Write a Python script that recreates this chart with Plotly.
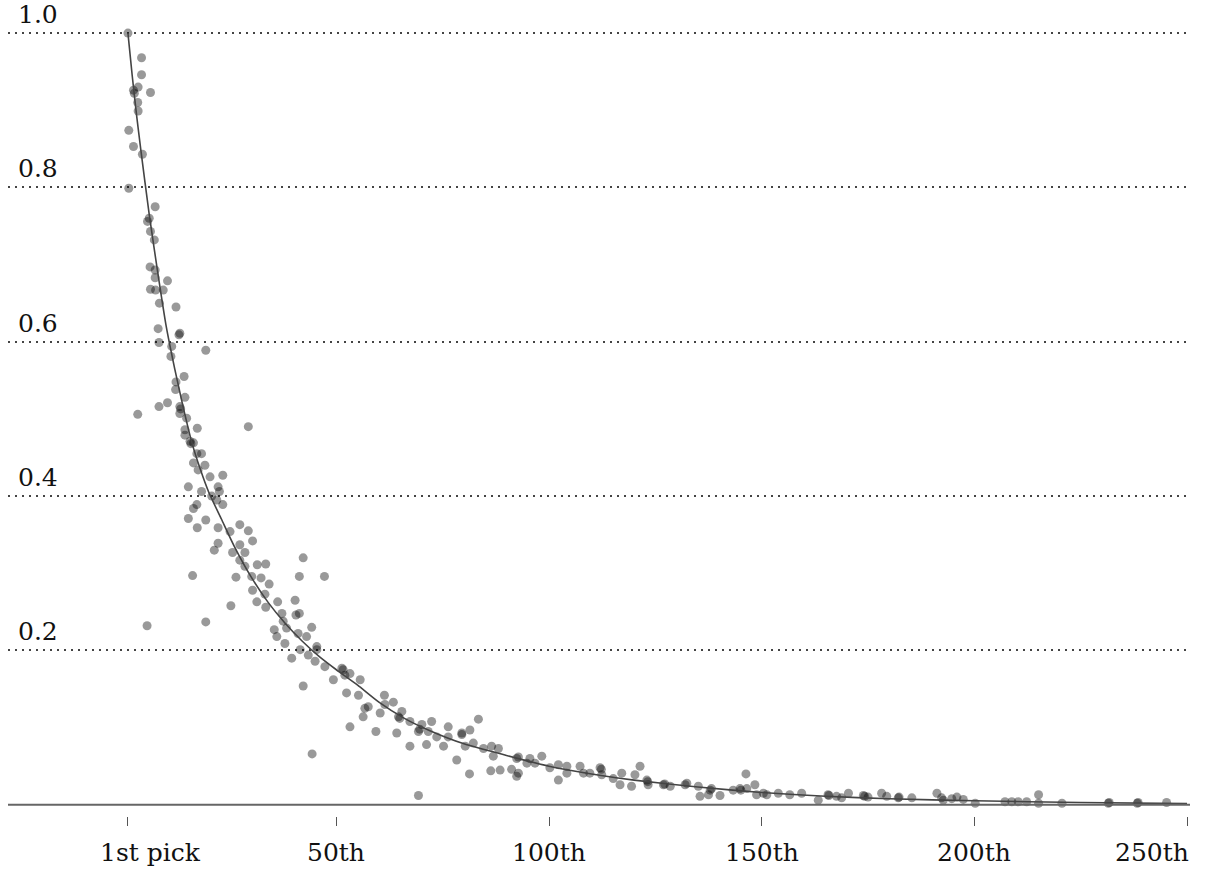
import plotly.graph_objects as go

# ---- data ----
pick_x = [1.0, 4.2, 4.2, 2.3, 2.5, 3.4, 6.3, 3.3, 3.4, 1.2, 2.3, 4.4, 1.2, 7.4, 6.0, 5.6, 6.3, 7.2, 6.2, 7.4,
          7.4, 10.3, 6.3, 7.5, 9.3, 8.4, 12.3, 8.1, 13.2, 13.0, 8.3, 11.3, 19.3, 11.1, 14.2, 12.3, 12.2, 14.4, 8.3, 10.3,
          13.2, 13.4, 3.3, 13.2, 14.8, 17.3, 14.4, 14.4, 29.3, 15.6, 15.8,
          16.4, 18.3, 17.2, 16.4, 19.1, 17.5, 20.3, 23.3, 15.2, 22.2, 18.3, 22.5, 20.7, 21.9, 17.2, 16.4, 23.3, 15.2, 19.3,
          17.3, 22.2, 27.3, 25.0, 29.3, 22.2, 30.3, 27.3, 21.3, 25.6, 28.5, 27.3, 42.2, 31.4, 33.4, 28.5, 16.2, 26.4, 30.1,
          32.3, 41.3, 47.2, 34.2, 30.3, 33.2, 36.2, 31.3, 40.3, 25.2, 33.4, 37.2, 40.5, 41.3, 19.3, 37.5, 44.2, 35.4, 38.3,
          41.0, 43.0, 36.0, 5.5,
          45.4, 37.9, 39.5, 41.5, 43.4, 45.4, 45.0, 42.2, 47.3, 49.3, 51.3, 51.6, 52.0, 53.2, 55.6, 52.4, 55.2, 44.3, 53.2,
          56.7, 57.5, 56.3, 61.3, 61.4, 63.4, 60.3, 59.3, 64.6, 64.9, 65.4, 64.2, 67.3, 69.3, 69.6, 67.3, 71.2, 72.4, 71.6,
          69.3, 76.3, 75.2, 73.6, 76.3, 78.3, 79.5, 81.4, 83.4, 80.3, 82.2, 81.3, 84.6, 86.5, 88.1, 86.3, 88.5, 86.9, 92.4,
          92.8, 91.2, 92.8, 94.8, 70.1, 79.5,
          92.4, 95.5, 96.7, 98.3, 100.2, 102.2, 102.2, 104.2, 104.2, 107.3, 108.1, 109.6, 112.0, 112.3, 112.4, 115.1, 117.1,
          116.7, 119.4, 120.2, 121.4, 123.0, 123.2, 123.3, 126.9, 127.2, 128.5, 132.0, 132.4, 135.1, 135.5, 137.9, 138.2,
          137.5, 140.2, 143.3, 144.9, 145.1, 146.5, 146.3, 148.4, 148.8, 151.2, 150.4, 153.9, 156.6, 159.4, 163.3, 165.6,
          165.8, 167.6, 168.8, 170.4, 173.9, 174.2, 175.0, 178.2, 179.4, 182.1, 182.3, 185.3, 191.2, 192.3, 192.7, 194.7,
          195.9, 197.4, 200.2, 207.2, 208.8, 210.3, 212.3, 215.1, 215.1, 220.6, 231.5, 231.7, 238.3, 238.5, 245.2]
pick_y = [1.0, 0.968, 0.946, 0.926, 0.922, 0.930, 0.923, 0.910, 0.899, 0.874, 0.853, 0.843, 0.799, 0.775, 0.760, 0.756,
          0.743, 0.732, 0.697, 0.693, 0.683, 0.679, 0.668, 0.667, 0.667, 0.650, 0.645, 0.617, 0.611, 0.609, 0.599, 0.594,
          0.589, 0.581, 0.555, 0.548, 0.538, 0.528, 0.516, 0.521, 0.516, 0.513, 0.506, 0.507, 0.501, 0.488, 0.486, 0.479,
          0.490, 0.471, 0.468,
          0.469, 0.455, 0.455, 0.443, 0.440, 0.434, 0.425, 0.427, 0.412, 0.412, 0.406, 0.406, 0.400, 0.395, 0.389, 0.384,
          0.389, 0.371, 0.369, 0.359, 0.359, 0.363, 0.354, 0.355, 0.339, 0.342, 0.337, 0.330, 0.327, 0.327, 0.317, 0.320,
          0.311, 0.312, 0.309, 0.297, 0.295, 0.296, 0.294, 0.296, 0.296, 0.286, 0.278, 0.273, 0.263, 0.263, 0.265, 0.258,
          0.256, 0.248, 0.246, 0.248, 0.237, 0.238, 0.230, 0.227, 0.229, 0.222, 0.218, 0.218, 0.232,
          0.205, 0.209, 0.190, 0.201, 0.194, 0.201, 0.186, 0.154, 0.179, 0.162, 0.177, 0.175, 0.168, 0.170, 0.162, 0.145,
          0.142, 0.066, 0.101, 0.125, 0.127, 0.114, 0.142, 0.130, 0.133, 0.119, 0.095, 0.114, 0.112, 0.121, 0.093, 0.108,
          0.095, 0.098, 0.076, 0.078, 0.108, 0.095, 0.012, 0.101, 0.076, 0.088, 0.088, 0.058, 0.091, 0.097, 0.111, 0.076,
          0.080, 0.040, 0.073, 0.076, 0.073, 0.044, 0.045, 0.063, 0.060, 0.062, 0.046, 0.041, 0.054, 0.104, 0.093,
          0.037, 0.060, 0.054, 0.063, 0.048, 0.052, 0.032, 0.050, 0.041, 0.050, 0.041, 0.041, 0.048, 0.046, 0.039, 0.034,
          0.041, 0.026, 0.024, 0.039, 0.050, 0.032, 0.030, 0.026, 0.026, 0.027, 0.024, 0.026, 0.028, 0.024, 0.011, 0.019,
          0.021, 0.013, 0.012, 0.019, 0.021, 0.019, 0.021, 0.040, 0.026, 0.013, 0.013, 0.015, 0.015, 0.013, 0.015, 0.006,
          0.013, 0.012, 0.011, 0.009, 0.015, 0.012, 0.011, 0.010, 0.015, 0.011, 0.009, 0.010, 0.009, 0.015, 0.009, 0.006,
          0.008, 0.010, 0.007, 0.002, 0.004, 0.004, 0.004, 0.004, 0.013, 0.002, 0.002, 0.002, 0.003, 0.002, 0.003, 0.003]

curve_x = [1, 2, 3, 4, 6, 8, 10, 12, 14, 16, 18, 20, 23, 26, 30, 34, 38, 42, 46, 50, 55, 60, 66, 72, 80, 90,
           100, 110, 120, 135, 150, 165, 180, 200, 225, 250]
curve_y = [1.0, 0.945, 0.895, 0.85, 0.765, 0.69, 0.62, 0.565, 0.515, 0.47, 0.435, 0.405, 0.37, 0.335, 0.295,
           0.262, 0.235, 0.212, 0.192, 0.175, 0.155, 0.133, 0.112, 0.096, 0.079, 0.064, 0.050, 0.040, 0.032,
           0.023, 0.016, 0.011, 0.0078, 0.0052, 0.003, 0.0015]

x_ticks = [1, 50, 100, 150, 200, 250]
x_labels = ["1st pick", "50th", "100th", "150th", "200th", "250th"]
y_ticks = [0.2, 0.4, 0.6, 0.8, 1.0]
y_labels = ["0.2", "0.4", "0.6", "0.8", "1.0"]

FONT = "DejaVu Serif"
FS = 25
TXT = "#111111"

fig = go.Figure()
fig.add_trace(go.Scatter(
    x=pick_x, y=pick_y, mode="markers",
    marker=dict(size=9, color="rgba(0,0,0,0.4)", line=dict(width=0)),
    cliponaxis=False, hoverinfo="skip", showlegend=False))
fig.add_trace(go.Scatter(
    x=curve_x, y=curve_y, mode="lines",
    line=dict(color="#444444", width=1.6, shape="spline", smoothing=0.6),
    cliponaxis=False, hoverinfo="skip", showlegend=False))

# baseline (axis line) at y = 0
fig.add_shape(type="line", xref="paper", x0=0, x1=1, yref="y", y0=0, y1=0,
              line=dict(color="#666666", width=2))

for v, t in zip(y_ticks, y_labels):
    fig.add_annotation(x=0, xref="paper", y=v, yref="y", text=t, showarrow=False,
                       xanchor="left", yanchor="bottom", xshift=8, yshift=2,
                       font=dict(family=FONT, size=FS, color=TXT))

# x tick labels (first one hangs to the right, last one kept inside the page)
for i, (v, t) in enumerate(zip(x_ticks, x_labels)):
    if i == 0:
        anchor, shift = "left", -30
    elif i == len(x_ticks) - 1:
        anchor, shift = "right", 4
    else:
        anchor, shift = "center", 0
    fig.add_annotation(x=v, xref="x", y=0, yref="paper", text=t, showarrow=False,
                       xanchor=anchor, yanchor="middle", xshift=shift, yshift=-36,
                       font=dict(family=FONT, size=FS, color=TXT))

fig.update_layout(
    width=1205, height=869,
    margin=dict(l=8, r=15, t=30, b=53),
    paper_bgcolor="white", plot_bgcolor="white",
    xaxis=dict(range=[-27.2, 250.7], tickvals=x_ticks, showticklabels=False,
               ticks="outside", ticklen=9, tickwidth=1, tickcolor="#555555",
               showgrid=False, zeroline=False, showline=False),
    yaxis=dict(range=[-0.0145, 1.004], tickvals=y_ticks, showticklabels=False,
               showgrid=True, gridcolor="#444444", gridwidth=2, griddash="2px,5px",
               zeroline=False, showline=False, ticks=""),
)

fig.write_html("out.html", config={"displayModeBar": False},
               post_script="document.body.style.margin='0';document.body.style.overflow='hidden';")
